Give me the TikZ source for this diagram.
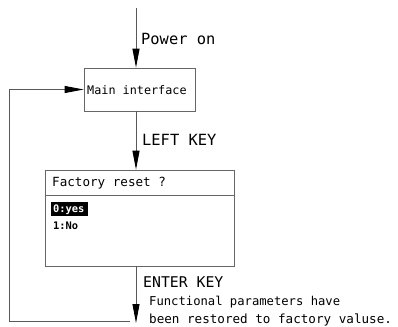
\documentclass[tikz,border=0pt]{standalone}
\usepackage{fontspec}
\setmonofont{DejaVu Sans Mono}
\usetikzlibrary{arrows.meta}
\begin{document}
\begin{tikzpicture}[x=1pt,y=-1pt,
  line/.style={draw=black!65,line width=0.9pt},
  arr/.style={line,-{Triangle[length=19pt,width=7pt,color=black]}},
  box/.style={draw=black!60,line width=0.7pt,inner sep=0pt},
  lbl/.style={anchor=west,inner sep=0pt,font=\ttfamily},
]
\useasboundingbox (0,0) rectangle (398,326);
% boxes
\node[box,minimum width=111pt,minimum height=43pt] (main) at (139.5,89.5) {};
\node[lbl,font=\ttfamily\fontsize{11.8}{13}\selectfont] (maintxt) at (87,90) {Main interface};
\node[box,minimum width=189pt,minimum height=96pt] (fac) at (139.5,218) {};
\coordinate (d1) at (45,195);
\coordinate (d2) at (234,195);
\draw[box] (d1) -- (d2);
\node[lbl,font=\ttfamily\fontsize{12.6}{14}\selectfont] (title) at (52,183) {Factory reset ?};
\node[fill=black,minimum width=37pt,minimum height=14pt,inner sep=0pt] (sel) at (69.5,209) {};
\node[lbl,text=white,font=\ttfamily\bfseries\fontsize{10.4}{12}\selectfont] (yes) at (53,209.5) {0:yes};
\node[lbl,font=\ttfamily\bfseries\fontsize{10.4}{12}\selectfont] (no) at (53,225.5) {1:No};
% labels
\node[lbl,font=\ttfamily\fontsize{15.4}{17}\selectfont] (pow) at (141,38.5) {Power on};
\node[lbl,font=\ttfamily\fontsize{15.4}{17}\selectfont] (lk) at (142,140) {LEFT KEY};
\node[lbl,font=\ttfamily\fontsize{14.8}{17}\selectfont] (ek) at (143,282) {ENTER KEY};
\node[lbl,font=\ttfamily\fontsize{12.2}{14}\selectfont] (f1) at (149,302) {Functional parameters have};
\node[lbl,font=\ttfamily\fontsize{12.6}{14}\selectfont] (f2) at (149,320) {been restored to factory valuse.};
% connectors
\coordinate (top) at (136,8);
\coordinate (bot) at (136,323);
\coordinate (bl) at (9,321.5);
\draw[arr] (top) -- (top |- main.north);
\draw[arr] (top |- main.south) -- (top |- fac.north);
\draw[arr] (top |- fac.south) -- (bot);
\draw[arr] (130,321.5) -- (bl) |- (main.west);
\end{tikzpicture}
\end{document}
